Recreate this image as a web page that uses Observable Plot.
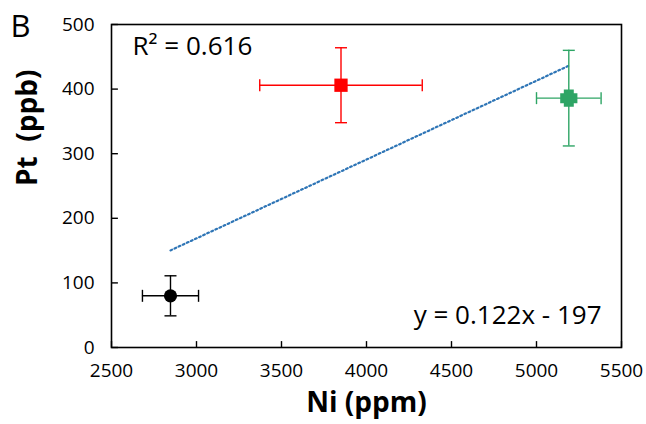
<!DOCTYPE html>
<html>
<head>
<meta charset="utf-8">
<script src="https://cdn.jsdelivr.net/npm/d3@7"></script>
<script src="https://cdn.jsdelivr.net/npm/@observablehq/plot@0.6"></script>
<style>
  html, body { margin: 0; padding: 0; background: #fff; }
  #chart svg { display: block; }
</style>
</head>
<body>
<div id="chart"></div>
<script>
// Data
const groups = ["black", "red", "green"];
const niPpm = [2847, 3850, 5190];
const niErr = [165, 478, 190];
const ptPpb = [80, 406, 386];
const ptErr = [31, 58, 74];
const colors = ["#000000", "#ff0000", "#2ea565"];
const symbols = ["circle", "square", "plus"];
const sizes = [6.6, 7.5, 8.6];

const xTicks = [2500, 3000, 3500, 4000, 4500, 5000, 5500];
const yTicks = [0, 100, 200, 300, 400, 500];

const trendSlope = 0.122;
const trendIntercept = -197;
const trendX = [2847, 5190];
const r2Label = "R\u00B2 = 0.616";
const eqLabel = "y = 0.122x - 197";
const panelLabel = "B";

// custom symbols: error-bar caps, inward ticks, thick plus marker
const vCap = { draw(ctx, size) { const r = Math.sqrt(size / Math.PI); ctx.moveTo(0, -r); ctx.lineTo(0, r); } };
const hCap = { draw(ctx, size) { const r = Math.sqrt(size / Math.PI); ctx.moveTo(-r, 0); ctx.lineTo(r, 0); } };
const thickPlus = { draw(ctx, size) {
  const h = Math.sqrt(size / Math.PI), t = 0.58 * h;
  ctx.moveTo(-t, -h); ctx.lineTo(t, -h); ctx.lineTo(t, -t); ctx.lineTo(h, -t);
  ctx.lineTo(h, t); ctx.lineTo(t, t); ctx.lineTo(t, h); ctx.lineTo(-t, h);
  ctx.lineTo(-t, t); ctx.lineTo(-h, t); ctx.lineTo(-h, -t); ctx.lineTo(-t, -t); ctx.closePath();
} };
const symbolMap = { circle: d3.symbolCircle, square: d3.symbolSquare, plus: thickPlus };

const pts = groups.map((g, i) => ({
  g, x: niPpm[i], ex: niErr[i], y: ptPpb[i], ey: ptErr[i],
  color: colors[i], symbol: symbols[i], r: sizes[i]
}));
const trend = trendX.map(x => ({x, y: trendSlope * x + trendIntercept}));

const font = "'Open Sans', 'Liberation Sans', sans-serif";

const chart = Plot.plot({
  width: 646,
  height: 424,
  marginLeft: 111,
  marginRight: 25,
  marginTop: 24,
  marginBottom: 77,
  style: { fontFamily: font, background: "#fff", color: "#000" },
  x: { domain: [2500, 5500], ticks: xTicks },
  y: { domain: [0, 500], ticks: yTicks },
  r: { type: "identity" },
  marks: [
    Plot.frame({ stroke: "#000", strokeWidth: 1.6 }),
    // tick labels
    Plot.axisX({ ticks: xTicks, tickSize: 0, tickPadding: 16, fontSize: 19, label: null, tickFormat: d => String(d) }),
    Plot.axisY({ ticks: yTicks, tickSize: 0, tickPadding: 17, fontSize: 19, label: null, tickFormat: d => String(d) }),
    // inward tick marks
    Plot.dot(xTicks, { x: d => d, y: 0, symbol: vCap, r: 3.2, stroke: "#000", strokeWidth: 1.4, dy: -3.2 }),
    Plot.dot(yTicks, { x: 2500, y: d => d, symbol: hCap, r: 3.2, stroke: "#000", strokeWidth: 1.4, dx: 3.2 }),
    // trendline
    Plot.line(trend, { x: "x", y: "y", stroke: "#2e75b6", strokeWidth: 2.2, strokeDasharray: "1.8,2.7" }),
    // error bars
    Plot.ruleY(pts, { y: "y", x1: d => d.x - d.ex, x2: d => d.x + d.ex, stroke: "color", strokeWidth: 1.4 }),
    Plot.ruleX(pts, { x: "x", y1: d => d.y - d.ey, y2: d => d.y + d.ey, stroke: "color", strokeWidth: 1.4 }),
    Plot.dot(pts, { x: d => d.x - d.ex, y: "y", symbol: vCap, r: 6, stroke: "color", strokeWidth: 1.4 }),
    Plot.dot(pts, { x: d => d.x + d.ex, y: "y", symbol: vCap, r: 6, stroke: "color", strokeWidth: 1.4 }),
    Plot.dot(pts, { x: "x", y: d => d.y - d.ey, symbol: hCap, r: 6, stroke: "color", strokeWidth: 1.4 }),
    Plot.dot(pts, { x: "x", y: d => d.y + d.ey, symbol: hCap, r: 6, stroke: "color", strokeWidth: 1.4 }),
    // markers
    ...pts.map(p => Plot.dot([p], { x: "x", y: "y", symbol: symbolMap[p.symbol], r: p.r, fill: p.color, stroke: "none" })),
    // annotations
    Plot.text([r2Label], { frameAnchor: "top-left", dx: 21, dy: 12, text: d => d, fontSize: 26, textAnchor: "start", lineAnchor: "top", fill: "#000" }),
    Plot.text([eqLabel], { frameAnchor: "bottom-right", dx: -20, dy: -24, text: d => d, fontSize: 26, textAnchor: "end", lineAnchor: "bottom", fill: "#000" }),
    Plot.text([panelLabel], { frameAnchor: "top-left", dx: -101, dy: -10, text: d => d, fontSize: 31, textAnchor: "start", lineAnchor: "top", fill: "#000" }),
    // axis titles
    Plot.text(["Ni (ppm)"], { frameAnchor: "bottom", dy: 56, text: d => d, fontSize: 28, fontWeight: "bold", lineAnchor: "middle", fill: "#000" }),
    Plot.text(["Pt  (ppb)"], { frameAnchor: "left", dx: -83, text: d => d, fontSize: 28, fontWeight: "bold", rotate: -90, fill: "#000" })
  ]
});
document.getElementById("chart").appendChild(chart);
</script>
</body>
</html>
